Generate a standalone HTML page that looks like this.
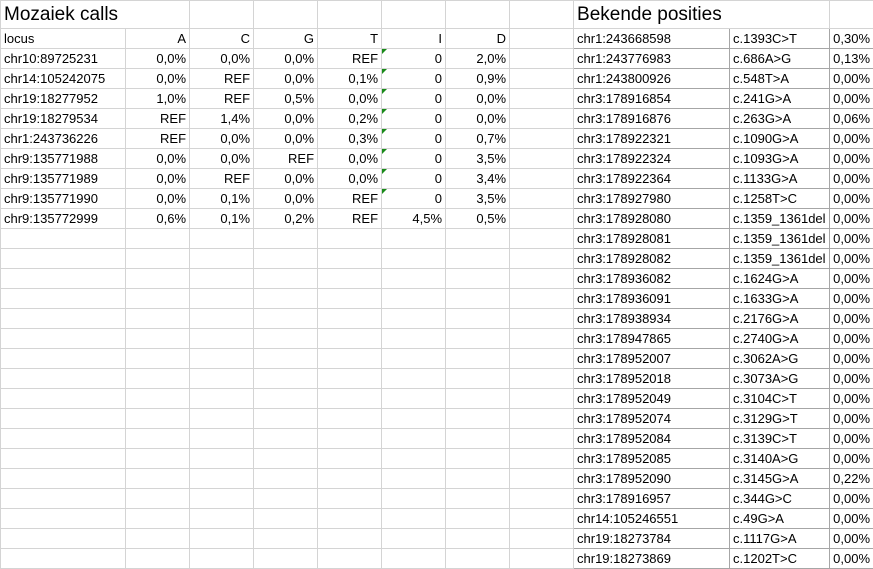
<!DOCTYPE html>
<html><head><meta charset="utf-8"><style>
body{margin:0;background:#fff;width:873px;height:569px;overflow:hidden;font-family:"Liberation Sans",Calibri,sans-serif;}
table{border-collapse:collapse;table-layout:fixed;width:873px;}
td{border:1px solid #d4d4d4;height:19px;padding:0 3px;font-size:13px;color:#000;white-space:nowrap;overflow:hidden;position:relative;}
tr.t td{height:27px;font-size:19px;}
td.r{text-align:right}
td.b{border-color:#a6a6a6}
.tri{position:absolute;left:0;top:0;width:0;height:0;border-top:5px solid #1a8a1a;border-right:5px solid transparent;}
</style></head><body>
<table>
<colgroup><col style="width:125px"><col style="width:64px"><col style="width:64px"><col style="width:64px"><col style="width:64px"><col style="width:64px"><col style="width:64px"><col style="width:64px"><col style="width:156px"><col style="width:100px"><col style="width:44px"></colgroup>
<tbody id="tb"></tbody></table>
<script>
const left=[
["locus","A","C","G","T","I","D"],
["chr10:89725231","0,0%","0,0%","0,0%","REF","0","2,0%"],
["chr14:105242075","0,0%","REF","0,0%","0,1%","0","0,9%"],
["chr19:18277952","1,0%","REF","0,5%","0,0%","0","0,0%"],
["chr19:18279534","REF","1,4%","0,0%","0,2%","0","0,0%"],
["chr1:243736226","REF","0,0%","0,0%","0,3%","0","0,7%"],
["chr9:135771988","0,0%","0,0%","REF","0,0%","0","3,5%"],
["chr9:135771989","0,0%","REF","0,0%","0,0%","0","3,4%"],
["chr9:135771990","0,0%","0,1%","0,0%","REF","0","3,5%"],
["chr9:135772999","0,6%","0,1%","0,2%","REF","4,5%","0,5%"]];
const right=[
["chr1:243668598","c.1393C>T","0,30%"],["chr1:243776983","c.686A>G","0,13%"],["chr1:243800926","c.548T>A","0,00%"],
["chr3:178916854","c.241G>A","0,00%"],["chr3:178916876","c.263G>A","0,06%"],["chr3:178922321","c.1090G>A","0,00%"],
["chr3:178922324","c.1093G>A","0,00%"],["chr3:178922364","c.1133G>A","0,00%"],["chr3:178927980","c.1258T>C","0,00%"],
["chr3:178928080","c.1359_1361del","0,00%"],["chr3:178928081","c.1359_1361del","0,00%"],["chr3:178928082","c.1359_1361del","0,00%"],
["chr3:178936082","c.1624G>A","0,00%"],["chr3:178936091","c.1633G>A","0,00%"],["chr3:178938934","c.2176G>A","0,00%"],
["chr3:178947865","c.2740G>A","0,00%"],["chr3:178952007","c.3062A>G","0,00%"],["chr3:178952018","c.3073A>G","0,00%"],
["chr3:178952049","c.3104C>T","0,00%"],["chr3:178952074","c.3129G>T","0,00%"],["chr3:178952084","c.3139C>T","0,00%"],
["chr3:178952085","c.3140A>G","0,00%"],["chr3:178952090","c.3145G>A","0,22%"],["chr3:178916957","c.344G>C","0,00%"],
["chr14:105246551","c.49G>A","0,00%"],["chr19:18273784","c.1117G>A","0,00%"],["chr19:18273869","c.1202T>C","0,00%"]];
let h='<tr class="t"><td colspan="2" style="border-right-color:#d4d4d4">Mozaiek calls</td><td></td><td></td><td></td><td></td><td></td><td></td><td colspan="2">Bekende posities</td><td></td></tr>';
for(let i=0;i<27;i++){
  h+='<tr>';
  const L=left[i];
  for(let c=0;c<7;c++){
    let v=L?L[c]:'';
    let tri=(L&&c==5&&i>=1&&i<=8)?'<span class="tri"></span>':'';
    h+='<td'+(c>0?' class="r"':'')+'>'+tri+v.replace(/>/g,'&gt;')+'</td>';
  }
  h+='<td></td>';
  const R=right[i];
  h+='<td class="b">'+R[0]+'</td><td class="b">'+R[1].replace(/>/g,'&gt;')+'</td><td class="b r">'+R[2]+'</td></tr>';
}
document.getElementById('tb').innerHTML=h;
</script>
</body></html>
